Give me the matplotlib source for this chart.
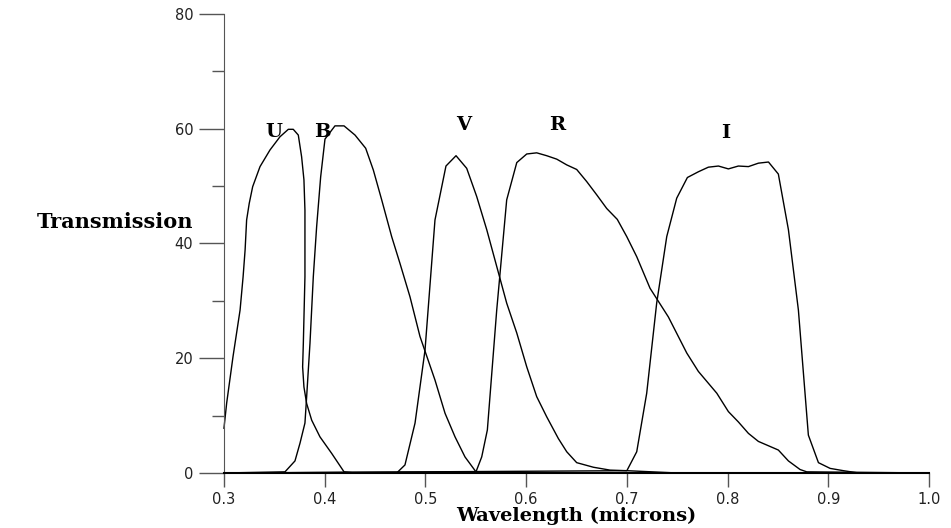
import matplotlib
matplotlib.use("Agg")
import matplotlib.pyplot as plt
from matplotlib.ticker import MultipleLocator

# --- filter transmission curves (wavelength in microns, transmission in %) ---
u_wl = [0.300, 0.3027, 0.309, 0.316, 0.319, 0.321, 0.3225, 0.3251, 0.3285, 0.3358,
        0.3457, 0.3556, 0.3639, 0.3688, 0.3738, 0.3771, 0.3794, 0.3804, 0.3804,
        0.3788, 0.3781, 0.3794, 0.3821, 0.3871, 0.3953, 0.407, 0.4192, 0.43, 1.0]
u_tr = [7.8, 12.2, 20.3, 28.4, 34.2, 38.9, 44.1, 47.0, 49.9, 53.4,
        56.3, 58.6, 59.9, 59.9, 58.9, 55.1, 51.1, 45.8, 34.2,
        22.6, 18.5, 15.0, 12.1, 9.2, 6.3, 3.4, 0.2, 0.0, 0.0]

b_wl = [0.300, 0.3606, 0.3705, 0.3755, 0.3804, 0.3821, 0.3854, 0.3887, 0.392, 0.396,
        0.4003, 0.4102, 0.4192, 0.4301, 0.4407, 0.4483, 0.4566, 0.4665, 0.4748,
        0.4847, 0.4946, 0.5095, 0.5195, 0.5294, 0.5393, 0.5502, 0.56, 1.0]
b_tr = [0.0, 0.2, 2.1, 5.2, 8.7, 13.3, 22.6, 34.2, 42.9, 51.6,
        58.2, 60.5, 60.5, 58.9, 56.6, 52.8, 47.6, 41.2, 36.5,
        30.7, 23.8, 16.2, 10.4, 6.3, 2.8, 0.2, 0.0, 0.0]

v_wl = [0.300, 0.4715, 0.4797, 0.4897, 0.4996, 0.5095, 0.5204, 0.5304, 0.541, 0.5509,
        0.5609, 0.5708, 0.5807, 0.5907, 0.6006, 0.6105, 0.6204, 0.632, 0.6403,
        0.6502, 0.6668, 0.6833, 0.700, 0.75, 1.0]
v_tr = [0.0, 0.0, 1.4, 8.7, 21.4, 44.1, 53.5, 55.3, 53.1, 48.2,
        42.4, 36.0, 29.6, 24.4, 18.5, 13.3, 9.8, 6.0, 3.7,
        1.8, 1.0, 0.5, 0.4, 0.0, 0.0]

r_wl = [0.300, 0.5502, 0.5559, 0.5615, 0.5708, 0.5807, 0.5907, 0.6006, 0.6105, 0.6204,
        0.6304, 0.6403, 0.6502, 0.6601, 0.670, 0.680, 0.6905, 0.6999, 0.7098,
        0.723, 0.7412, 0.7595, 0.771, 0.7893, 0.8008, 0.8107, 0.8207, 0.8306,
        0.8504, 0.8604, 0.872, 0.8786, 1.0]
r_tr = [0.0, 0.2, 2.8, 7.5, 28.4, 47.6, 54.1, 55.6, 55.8, 55.3,
        54.7, 53.7, 52.9, 50.8, 48.5, 46.1, 44.2, 41.2, 37.7,
        32.2, 27.2, 20.9, 17.7, 13.9, 10.7, 8.9, 6.9, 5.5,
        4.0, 2.1, 0.6, 0.2, 0.0]

i_wl = [0.300, 0.700, 0.7098, 0.7197, 0.7296, 0.7396, 0.7495, 0.7601, 0.771, 0.7809,
        0.7909, 0.8008, 0.8107, 0.8207, 0.8306, 0.8406, 0.8504, 0.8604, 0.8703,
        0.8802, 0.8902, 0.9018, 0.915, 0.93, 1.0]
i_tr = [0.0, 0.4, 3.7, 13.9, 29.6, 41.2, 47.9, 51.5, 52.5, 53.3,
        53.5, 53.0, 53.5, 53.4, 54.0, 54.2, 52.1, 42.4, 28.4,
        6.6, 1.8, 0.8, 0.4, 0.0, 0.0]

band_names = ["U", "B", "V", "R", "I"]
band_label_x = [0.349, 0.398, 0.538, 0.631, 0.798]
band_label_y = [59.4, 59.4, 60.6, 60.6, 59.3]

x_ticks = [0.3, 0.4, 0.5, 0.6, 0.7, 0.8, 0.9, 1.0]
x_tick_labels = ["0.3", "0.4", "0.5", "0.6", "0.7", "0.8", "0.9", "1.0"]

# --- figure ---
fig = plt.figure(figsize=(9.51, 5.28), dpi=100)
ax = fig.add_axes([0.2355, 0.1042, 0.7414, 0.8693])

for wl, tr in [(u_wl, u_tr), (b_wl, b_tr), (v_wl, v_tr), (r_wl, r_tr), (i_wl, i_tr)]:
    ax.plot(wl, tr, color="black", lw=1.0, clip_on=False)

label_font = dict(family="DejaVu Serif", weight="bold", size=14)
for name, lx, ly in zip(band_names, band_label_x, band_label_y):
    ax.text(lx, ly, name, ha="center", va="center", **label_font)

ax.set_xlim(0.3, 1.0)
ax.set_ylim(0, 80)
ax.yaxis.set_major_locator(MultipleLocator(20))
ax.yaxis.set_minor_locator(MultipleLocator(10))
ax.set_xticks(x_ticks)
ax.set_xticklabels(x_tick_labels)

for side in ["top", "right"]:
    ax.spines[side].set_visible(False)
ax.spines["left"].set_color("#555555")
ax.spines["bottom"].set_color("black")
ax.spines["bottom"].set_linewidth(1.5)

ax.tick_params(axis="y", which="major", direction="out", length=18, width=1,
               color="#555555", labelsize=10.5, labelcolor="#222222", pad=4)
ax.tick_params(axis="y", which="minor", direction="out", length=9, width=1,
               color="#555555")
ax.tick_params(axis="x", which="major", direction="out", length=10, width=1,
               color="#555555", labelsize=10.5, labelcolor="#222222", pad=4)

ax.set_ylabel("Transmission", rotation=0, ha="right", va="center",
              family="DejaVu Serif", weight="bold", size=15)
ax.yaxis.set_label_coords(-0.044, 0.547)
ax.set_xlabel("Wavelength (microns)", va="baseline", **label_font)
ax.xaxis.set_label_coords(0.5, -0.105)

fig.savefig("out.png", dpi=100)
